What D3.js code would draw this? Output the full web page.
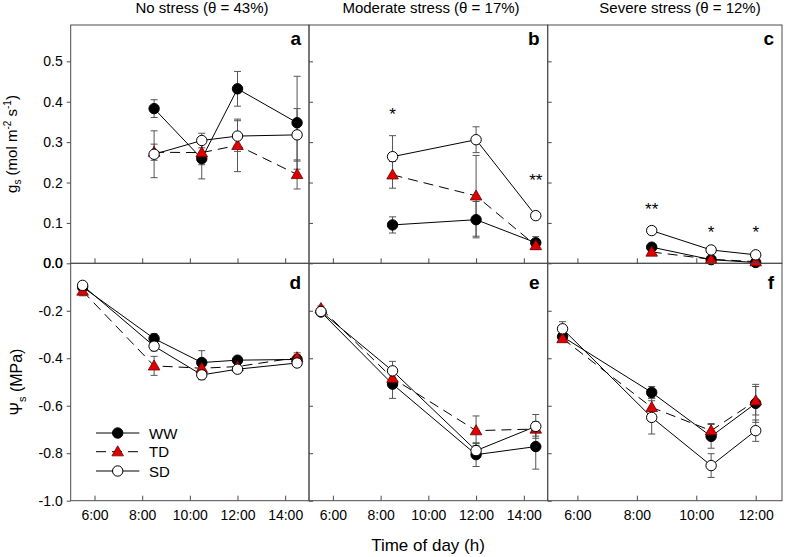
<!DOCTYPE html>
<html><head><meta charset="utf-8">
<script src="https://cdn.jsdelivr.net/npm/d3@7"></script>
<style>
body{margin:0;background:#fff}
svg{display:block}
text{font-family:Arial,"Liberation Sans",Helvetica,sans-serif;fill:#000}
</style>
</head><body><svg id="c" width="787" height="557"></svg>
<script>
// ---------- data ----------
const seriesNames = ["WW", "TD", "SD"];
const panelLetters = ["a", "b", "c", "d", "e", "f"];
const columnTitles = ["No stress (\u03B8 = 43%)", "Moderate stress (\u03B8 = 17%)", "Severe stress (\u03B8 = 12%)"];
const xTickValues = [6, 8, 10, 12, 14];
const xTickLabels = ["6:00", "8:00", "10:00", "12:00", "14:00"];
const gsTicks = [0.1, 0.2, 0.3, 0.4, 0.5];
const psiTicks = [0, -0.2, -0.4, -0.6, -0.8, -1.0];

// panel a  (gs, no stress)
const timesA = [8.5, 10.5, 12, 14.5];
const wwA = [0.383, 0.259, 0.432, 0.348];   const wwErrA = [0.022, 0.05, 0.043, 0.115];
const tdA = [0.275, 0.274, 0.292, 0.220];   const tdErrA = [0.02, 0.03, 0.065, 0.036];
const sdA = [0.270, 0.304, 0.315, 0.318];   const sdErrA = [0.058, 0.018, 0.038, 0.065];
// panel b  (gs, moderate)
const timesB = [8.5, 12, 14.5];
const wwB = [0.095, 0.108, 0.051];          const wwErrB = [0.02, 0.045, 0.015];
const tdB = [0.219, 0.167, 0.044];          const tdErrB = [0.033, 0.1, 0.01];
const sdB = [0.264, 0.306, 0.118];          const sdErrB = [0.052, 0.032, 0.005];
// panel c  (gs, severe)
const timesC = [8.5, 10.5, 12];
const wwC = [0.040, 0.009, 0.002];          const wwErrC = [0.005, 0.003, 0.002];
const tdC = [0.028, 0.010, 0.004];          const tdErrC = [0.004, 0.003, 0.002];
const sdC = [0.081, 0.033, 0.021];          const sdErrC = [0.01, 0.005, 0.004];
// panel d  (psi, no stress)
const timesD = [5.5, 8.5, 10.5, 12, 14.5];
const wwD = [-0.100, -0.317, -0.418, -0.408, -0.405];  const wwErrD = [0.01, 0.02, 0.05, 0.01, 0.02];
const tdD = [-0.117, -0.432, -0.442, -0.435, -0.397];  const tdErrD = [0.02, 0.04, 0.02, 0.01, 0.02];
const sdD = [-0.093, -0.349, -0.470, -0.446, -0.420];  const sdErrD = [0.01, 0.02, 0.02, 0.01, 0.01];
// panel e  (psi, moderate)
const timesE = [5.5, 8.5, 12, 14.5];
const wwE = [-0.205, -0.509, -0.806, -0.772];  const wwErrE = [0.01, 0.06, 0.05, 0.095];
const tdE = [-0.190, -0.484, -0.705, -0.698];  const tdErrE = [0.01, 0.03, 0.062, 0.03];
const sdE = [-0.203, -0.453, -0.789, -0.687];  const sdErrE = [0.01, 0.04, 0.03, 0.05];
// panel f  (psi, severe)
const timesF = [5.5, 8.5, 10.5, 12];
const wwF = [-0.309, -0.544, -0.729, -0.590];  const wwErrF = [0.015, 0.025, 0.05, 0.08];
const tdF = [-0.317, -0.607, -0.705, -0.579];  const tdErrF = [0.01, 0.04, 0.03, 0.06];
const sdF = [-0.276, -0.649, -0.852, -0.705];  const sdErrF = [0.03, 0.07, 0.05, 0.045];

// significance stars: [time, value, label]
const starsB = [[8.5, 0.38, "*"], [14.5, 0.215, "**"]];
const starsC = [[8.5, 0.145, "**"], [10.5, 0.088, "*"], [12, 0.088, "*"]];

// ---------- layout ----------
const svg = d3.select("#c");
const colX = [[70.7, 309], [309, 547.7], [547.7, 782]];
const colDomain = [[5, 15], [5, 15], [5, 12.885]];
const rowY = [[25, 263.3], [263.3, 500.7]];
const rowDomain = [[0, 0.59], [-1, 0]];
const frameColor = "#4a4a4a";
const errColor = "#555";
const fmt1 = v => d3.format(".1f")(v).replace("\u2212", "-");

function pack(times, ww, wwE, td, tdE, sd, sdE) {
  return [
    {name: "WW", pts: times.map((t, i) => ({t, v: ww[i], e: wwE[i]}))},
    {name: "TD", pts: times.map((t, i) => ({t, v: td[i], e: tdE[i]}))},
    {name: "SD", pts: times.map((t, i) => ({t, v: sd[i], e: sdE[i]}))}
  ];
}
const panels = [
  {row: 0, col: 0, data: pack(timesA, wwA, wwErrA, tdA, tdErrA, sdA, sdErrA), stars: []},
  {row: 0, col: 1, data: pack(timesB, wwB, wwErrB, tdB, tdErrB, sdB, sdErrB), stars: starsB},
  {row: 0, col: 2, data: pack(timesC, wwC, wwErrC, tdC, tdErrC, sdC, sdErrC), stars: starsC},
  {row: 1, col: 0, data: pack(timesD, wwD, wwErrD, tdD, tdErrD, sdD, sdErrD), stars: []},
  {row: 1, col: 1, data: pack(timesE, wwE, wwErrE, tdE, tdErrE, sdE, sdErrE), stars: []},
  {row: 1, col: 2, data: pack(timesF, wwF, wwErrF, tdF, tdErrF, sdF, sdErrF), stars: []}
];

const triPath = d3.symbol().type(d3.symbolTriangle).size(58)();

function drawMarker(g, name, x, y) {
  if (name === "TD") {
    g.append("path").attr("d", triPath).attr("transform", `translate(${x},${y + 0.8})`)
      .attr("fill", "#e00000").attr("stroke", "#6a0000").attr("stroke-width", 0.8);
  } else {
    g.append("circle").attr("cx", x).attr("cy", y).attr("r", 5.2)
      .attr("fill", name === "WW" ? "#000" : "#fff").attr("stroke", "#000").attr("stroke-width", 1);
  }
}

panels.forEach((p, idx) => {
  const x = d3.scaleLinear().domain(colDomain[p.col]).range(colX[p.col]);
  const y = d3.scaleLinear().domain(rowDomain[p.row]).range([rowY[p.row][1], rowY[p.row][0]]);
  const g = svg.append("g");
  const x0 = colX[p.col][0], x1 = colX[p.col][1], y0 = rowY[p.row][0], y1 = rowY[p.row][1];

  // x ticks (inward)
  const xt = xTickValues.filter(v => v < colDomain[p.col][1]);
  const xAxis = d3.axisBottom(x).tickValues(xt).tickSize(-5)
    .tickFormat(p.row === 1 ? (d => xTickLabels[xTickValues.indexOf(d)]) : () => "");
  const gx = g.append("g").attr("transform", `translate(0,${y1})`).call(xAxis);
  gx.select(".domain").remove();
  gx.selectAll("line").attr("stroke", frameColor);
  gx.selectAll("text").attr("font-size", 14).attr("dy", 0).attr("y", 19.5)
    .attr("font-family", "Arial, 'Liberation Sans', sans-serif");

  // y ticks
  const yt = p.row === 0 ? gsTicks : psiTicks;
  const yAxis = (p.col === 0 ? d3.axisLeft(y).tickSize(4) : d3.axisRight(y).tickSize(4))
    .tickValues(yt).tickFormat(p.col === 0 ? fmt1 : () => "");
  const gy = g.append("g").attr("transform", `translate(${x0},0)`).call(yAxis);
  gy.select(".domain").remove();
  gy.selectAll("line").attr("stroke", frameColor);
  gy.selectAll("text").attr("font-size", 14).attr("x", -8)
    .attr("font-family", "Arial, 'Liberation Sans', sans-serif");
  if (p.row === 0 && p.col === 0) {
    gy.append("text").attr("x", -8).attr("y", y(0)).attr("dy", "0.32em")
      .attr("text-anchor", "end").attr("font-size", 14).attr("fill", "#000").text("0.0");
  }

  // frame
  g.append("rect").attr("x", x0).attr("y", y0).attr("width", x1 - x0).attr("height", y1 - y0)
    .attr("fill", "none").attr("stroke", frameColor).attr("stroke-width", 1);

  // lines
  const line = d3.line().x(d => x(d.t)).y(d => y(d.v));
  p.data.forEach(s => {
    g.append("path").attr("d", line(s.pts)).attr("fill", "none").attr("stroke", "#000")
      .attr("stroke-width", 1).attr("stroke-dasharray", s.name === "TD" ? "10,6" : null);
  });
  // error bars
  p.data.forEach(s => {
    s.pts.forEach(d => {
      const cx = x(d.t), ya = y(d.v + d.e), yb = y(d.v - d.e);
      g.append("line").attr("x1", cx).attr("x2", cx).attr("y1", ya).attr("y2", yb)
        .attr("stroke", errColor).attr("stroke-width", 1);
      [ya, yb].forEach(yy => g.append("line").attr("x1", cx - 3.5).attr("x2", cx + 3.5)
        .attr("y1", yy).attr("y2", yy).attr("stroke", errColor).attr("stroke-width", 1));
    });
  });
  // markers
  p.data.forEach(s => s.pts.forEach(d => drawMarker(g, s.name, x(d.t), y(d.v))));

  // stars
  p.stars.forEach(st => {
    g.append("text").attr("x", x(st[0])).attr("y", y(st[1]) + 10).attr("text-anchor", "middle")
      .attr("font-size", 17).text(st[2]);
  });

  // panel letter
  g.append("text").attr("x", x1 - 8).attr("y", p.row === 0 ? y0 + 20 : y0 + 26)
    .attr("text-anchor", "end").attr("font-size", 19).attr("font-weight", "bold")
    .text(panelLetters[idx]);
});

// column titles
const titleX = [202, 431, 680];
columnTitles.forEach((t, i) => {
  svg.append("text").attr("x", titleX[i]).attr("y", 13).attr("text-anchor", "middle")
    .attr("font-size", 15).text(t);
});

// y labels
const gl = svg.append("text").attr("transform", "translate(17,144) rotate(-90)")
  .attr("text-anchor", "middle").attr("font-size", 15);
gl.append("tspan").text("g");
gl.append("tspan").attr("font-size", 10).attr("dy", 4).text("s");
gl.append("tspan").attr("dy", -4).text(" (mol m");
gl.append("tspan").attr("font-size", 10).attr("dy", -6).text("-2");
gl.append("tspan").attr("dy", 6).text(" s");
gl.append("tspan").attr("font-size", 10).attr("dy", -6).text("-1");
gl.append("tspan").attr("dy", 6).text(")");

const pl = svg.append("text").attr("transform", "translate(22,382) rotate(-90)")
  .attr("text-anchor", "middle").attr("font-size", 16);
pl.append("tspan").text("\u03A8");
pl.append("tspan").attr("font-size", 11).attr("dy", 4).text("s");
pl.append("tspan").attr("dy", -4).text(" (MPa)");

// x label
svg.append("text").attr("x", 428).attr("y", 551).attr("text-anchor", "middle")
  .attr("font-size", 17).text("Time of day (h)");

// legend
const legY = [433, 451.7, 471];
seriesNames.forEach((n, i) => {
  const lg = svg.append("g");
  lg.append("line").attr("x1", 96).attr("x2", 139.3).attr("y1", legY[i]).attr("y2", legY[i])
    .attr("stroke", "#000").attr("stroke-width", 1)
    .attr("stroke-dasharray", n === "TD" ? "10,6" : null);
  drawMarker(lg, n, 117.7, legY[i]);
  lg.append("text").attr("x", 149).attr("y", legY[i] + 5.5).attr("font-size", 15).text(n);
});
</script>
</body></html>
